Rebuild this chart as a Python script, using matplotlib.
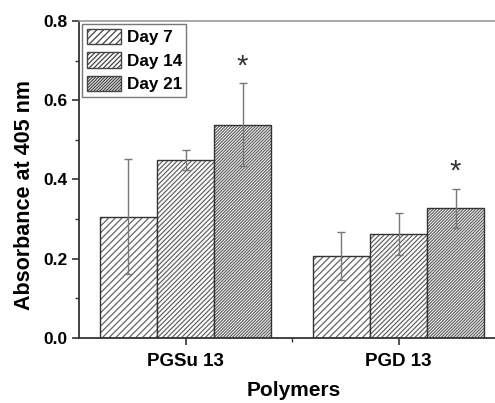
import numpy as np
import matplotlib
matplotlib.use('Agg')
import matplotlib.pyplot as plt
from matplotlib.ticker import MultipleLocator, FixedLocator, FormatStrFormatter

plt.rcParams['font.family'] = ['Liberation Sans', 'DejaVu Sans']
plt.rcParams['font.weight'] = 'bold'
plt.rcParams['hatch.linewidth'] = 0.9

# --- data ---
polymers = ['PGSu 13', 'PGD 13']
days = ['Day 7', 'Day 14', 'Day 21']
means = {
    'Day 7':  [0.306, 0.207],
    'Day 14': [0.449, 0.262],
    'Day 21': [0.538, 0.327],
}
errors = {
    'Day 7':  [0.145, 0.061],
    'Day 14': [0.025, 0.053],
    'Day 21': [0.105, 0.050],
}
star_y = [0.685, 0.420]   # asterisks over Day 21 bars

hatches = ['/////', '///////', '///////////']
hatch_col = '#666666'
edge = '#333333'
width = 0.268

fig = plt.figure(figsize=(4.95, 4.03), dpi=100)
ax = fig.add_axes([0.1596, 0.1613, 0.8465, 0.7867])

x = np.arange(1, len(polymers) + 1)
for i, d in enumerate(days):
    pos = x + (i - 1) * width
    # hatch layer in gray, outline on top in darker gray
    ax.bar(pos, means[d], width, color='white', edgecolor=hatch_col, hatch=hatches[i],
           linewidth=0, label=d)
    ax.bar(pos, means[d], width, fill=False, edgecolor=edge, linewidth=1.0)
    ax.errorbar(pos, means[d], yerr=errors[d], fmt='none', ecolor='#777777',
                elinewidth=1.0, capsize=3, capthick=1.0)

for xi, sy in zip(x + width, star_y):
    ax.text(xi, sy, '*', ha='center', va='center', fontsize=21, fontweight='normal',
            color='#333333')

ax.set_xlim(0.5, 2.467)
ax.set_ylim(0, 0.8)
ax.set_xticks(x)
ax.set_xticklabels(polymers, fontsize=13.5)
ax.xaxis.set_minor_locator(FixedLocator([1.5]))
ax.yaxis.set_major_locator(MultipleLocator(0.2))
ax.yaxis.set_minor_locator(MultipleLocator(0.1))
ax.yaxis.set_major_formatter(FormatStrFormatter('%.1f'))
ax.tick_params(axis='y', which='major', labelsize=12.5)
ax.tick_params(which='major', direction='out', length=5, width=1.2, colors='#333333', labelcolor='black')
ax.tick_params(which='minor', direction='out', length=3, width=1.0, colors='#333333')
ax.tick_params(axis='x', pad=6)

for s in ['left', 'bottom']:
    ax.spines[s].set_color('#333333')
    ax.spines[s].set_linewidth(1.3)
for s in ['top', 'right']:
    ax.spines[s].set_color('#999999')
    ax.spines[s].set_linewidth(1.2)

ax.set_xlabel('Polymers', fontsize=15, fontweight='bold')
ax.xaxis.set_label_coords(0.513, -0.136)
ax.set_ylabel('Absorbance at 405 nm', fontsize=15.5, fontweight='bold')
ax.yaxis.set_label_coords(-0.104, 0.451)

handles, labels = ax.get_legend_handles_labels()
leg = ax.legend(handles[:3], labels[:3], loc='upper left', fontsize=12.3, frameon=True,
                fancybox=False, edgecolor='#555555', borderpad=0.25, handlelength=2.0,
                handleheight=1.0, handletextpad=0.35, labelspacing=0.42, borderaxespad=0.2)
leg.get_frame().set_linewidth(1.0)
for p in leg.get_patches():
    p.set_edgecolor('#444444')
    p.set_linewidth(1.0)

fig.savefig('out.png', dpi=100)
